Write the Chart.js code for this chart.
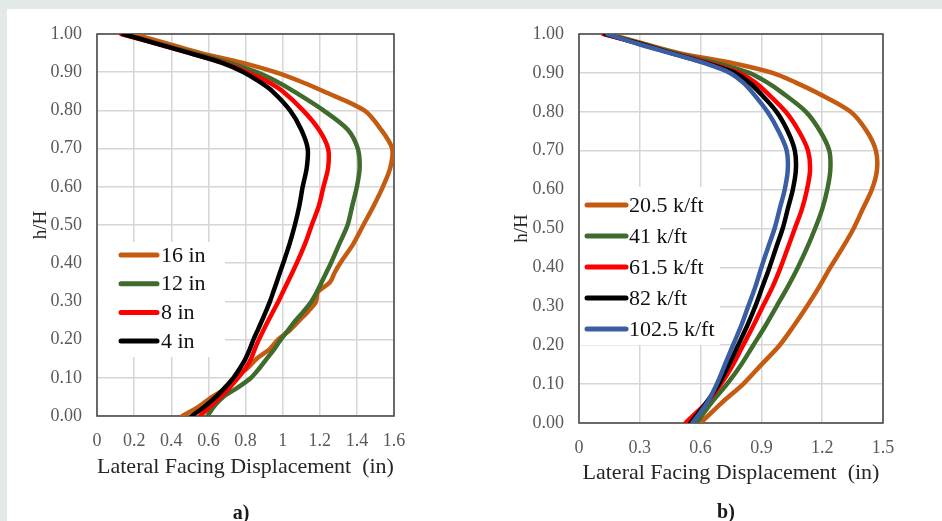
<!DOCTYPE html>
<html>
<head>
<meta charset="utf-8">
<script src="https://cdn.jsdelivr.net/npm/chart.js@4.4.1/dist/chart.umd.min.js"></script>
<style>
  body { margin: 0; background: #e3e9e6; width: 942px; height: 521px; overflow: hidden; }
  #panel { position: absolute; left: 7px; top: 9px; width: 935px; height: 512px; background: #fff; }
  .box { position: absolute; top: 0; width: 471px; height: 521px; }
  .cap { position: absolute; font: bold 20px 'Liberation Serif', 'Times New Roman', serif; color: #1a1a1a; transform: translate(-50%, -50%); }
</style>
</head>
<body>
<div id="panel"></div>
<div class="box" style="left:0"><canvas id="chartA"></canvas></div>
<div class="box" style="left:471px"><canvas id="chartB"></canvas></div>
<div class="cap" style="left:241px; top:512px">a)</div>
<div class="cap" style="left:726px; top:511px">b)</div>
<script>
// relative height h/H (shared by every series of a chart)
const heightsA = [0, 0.025, 0.05, 0.075, 0.1, 0.125, 0.15, 0.175, 0.2, 0.225, 0.25, 0.275, 0.3, 0.325, 0.35, 0.375, 0.4, 0.45, 0.5, 0.55, 0.6, 0.65, 0.7, 0.75, 0.8, 0.85, 0.875, 0.9, 0.925, 0.95, 0.975, 1.0];
const heightsB = [0, 0.05, 0.1, 0.15, 0.2, 0.25, 0.3, 0.35, 0.4, 0.45, 0.5, 0.55, 0.6, 0.65, 0.7, 0.75, 0.8, 0.85, 0.875, 0.9, 0.925, 0.95, 0.975, 1.0];

// a) lateral facing displacement (in) for each spacing
const namesA = ['16 in', '12 in', '8 in', '4 in'];
const disp16in = [0.46, 0.55, 0.62, 0.70, 0.74, 0.81, 0.86, 0.93, 0.975, 1.04, 1.09, 1.14, 1.18, 1.19, 1.255, 1.28, 1.31, 1.38, 1.435, 1.49, 1.54, 1.58, 1.59, 1.53, 1.44, 1.22, 1.10, 0.96, 0.78, 0.56, 0.38, 0.19];
const disp12in = [0.595, 0.63, 0.68, 0.76, 0.83, 0.875, 0.915, 0.955, 0.99, 1.03, 1.07, 1.115, 1.155, 1.185, 1.21, 1.235, 1.26, 1.305, 1.35, 1.375, 1.40, 1.415, 1.405, 1.35, 1.22, 1.06, 0.97, 0.86, 0.71, 0.52, 0.33, 0.14];
const disp8in = [0.555, 0.61, 0.665, 0.715, 0.76, 0.80, 0.83, 0.85, 0.872, 0.897, 0.923, 0.95, 0.977, 1.002, 1.027, 1.052, 1.076, 1.12, 1.157, 1.195, 1.22, 1.245, 1.245, 1.195, 1.11, 1.0, 0.92, 0.81, 0.68, 0.50, 0.32, 0.13];
const disp4in = [0.51, 0.58, 0.64, 0.69, 0.735, 0.77, 0.80, 0.823, 0.843, 0.866, 0.889, 0.911, 0.932, 0.95, 0.968, 0.985, 1.003, 1.037, 1.066, 1.09, 1.108, 1.13, 1.135, 1.10, 1.04, 0.945, 0.875, 0.79, 0.67, 0.50, 0.32, 0.14];

// b) lateral facing displacement (in) for each stiffness
const namesB = ['20.5 k/ft', '41 k/ft', '61.5 k/ft', '82 k/ft', '102.5 k/ft'];
const disp20k = [0.60, 0.70, 0.81, 0.90, 0.99, 1.06, 1.125, 1.185, 1.24, 1.30, 1.355, 1.40, 1.445, 1.47, 1.465, 1.42, 1.34, 1.17, 1.07, 0.955, 0.76, 0.50, 0.32, 0.15];
const disp41k = [0.58, 0.65, 0.73, 0.80, 0.86, 0.92, 0.975, 1.03, 1.08, 1.125, 1.165, 1.20, 1.225, 1.24, 1.235, 1.19, 1.12, 1.0, 0.93, 0.84, 0.68, 0.48, 0.31, 0.13];
const disp61k = [0.525, 0.625, 0.70, 0.76, 0.81, 0.86, 0.907, 0.955, 0.995, 1.03, 1.065, 1.10, 1.125, 1.14, 1.13, 1.085, 1.02, 0.925, 0.87, 0.79, 0.645, 0.465, 0.30, 0.12];
const disp82k = [0.55, 0.625, 0.69, 0.74, 0.785, 0.83, 0.87, 0.905, 0.94, 0.972, 1.005, 1.03, 1.055, 1.07, 1.065, 1.03, 0.975, 0.89, 0.84, 0.77, 0.63, 0.46, 0.30, 0.13];
const disp102k = [0.56, 0.63, 0.68, 0.72, 0.76, 0.80, 0.835, 0.87, 0.90, 0.932, 0.965, 0.99, 1.015, 1.03, 1.025, 0.985, 0.93, 0.855, 0.81, 0.745, 0.62, 0.455, 0.29, 0.14];

const yTicks = [0, 0.1, 0.2, 0.3, 0.4, 0.5, 0.6, 0.7, 0.8, 0.9, 1.0];
const xTicksA = [0, 0.2, 0.4, 0.6, 0.8, 1, 1.2, 1.4, 1.6];
const xTicksB = [0, 0.3, 0.6, 0.9, 1.2, 1.5];

const ORANGE = '#c55a11', GREEN = '#3f6b2c', RED = '#ff0000', BLACK = '#000000', BLUE = '#3a5ea3';
const SERIF = "'Liberation Serif', 'Times New Roman', serif";

function makeSeries(name, xs, ys, color, order) {
  return {
    label: name,
    data: xs.map((x, i) => ({ x: x, y: ys[i] })),
    borderColor: color,
    backgroundColor: color,
    borderWidth: 4.5,
    borderCapStyle: 'round',
    borderJoinStyle: 'round',
    pointRadius: 0,
    showLine: true,
    tension: 0.3,
    order: order
  };
}

// frame around the plot area
const framePlugin = {
  id: 'frame',
  beforeDatasetsDraw(chart) {
    const a = chart.chartArea, ctx = chart.ctx;
    ctx.save();
    ctx.strokeStyle = '#4d4d4d';
    ctx.lineWidth = 1.6;
    ctx.strokeRect(a.left, a.top, a.right - a.left, a.bottom - a.top);
    ctx.restore();
  }
};

// legend drawn inside the plot area on a white box
const boxLegend = {
  id: 'boxLegend',
  afterDatasetsDraw(chart, args, opts) {
    const a = chart.chartArea, ctx = chart.ctx;
    ctx.save();
    ctx.fillStyle = '#ffffff';
    ctx.fillRect(a.left + 1, a.top + opts.top, opts.width, opts.height);
    ctx.font = opts.fontSize + 'px ' + SERIF;
    ctx.textBaseline = 'middle';
    ctx.lineCap = 'round';
    opts.rows.forEach((row, i) => {
      const y = a.top + opts.firstRow + i * opts.rowGap;
      ctx.strokeStyle = row.color;
      ctx.lineWidth = 5;
      ctx.beginPath();
      ctx.moveTo(a.left + opts.lineStart, y);
      ctx.lineTo(a.left + opts.lineEnd, y);
      ctx.stroke();
      ctx.fillStyle = '#111111';
      ctx.fillText(row.text, a.left + opts.textX, y + 1);
    });
    ctx.restore();
  }
};

function fmtX(v) { return String(Math.round(v * 10) / 10); }

function makeOptions(xTicks, xMax, cfg) {
  return {
    responsive: true,
    maintainAspectRatio: false,
    animation: false,
    layout: { autoPadding: false, padding: { left: cfg.padLeft, right: cfg.padRight, top: 34, bottom: 0 } },
    plugins: {
      legend: { display: false },
      tooltip: { enabled: false },
      boxLegend: cfg.legend
    },
    scales: {
      x: {
        type: 'linear',
        min: 0,
        max: xMax,
        afterBuildTicks: s => { s.ticks = xTicks.map(v => ({ value: v })); },
        afterFit: s => { s.height = cfg.xHeight; },
        grid: { color: '#d6d6d6', lineWidth: 1.5, drawTicks: false },
        border: { display: false },
        ticks: { color: '#595959', padding: 14, font: { family: SERIF, size: 18 }, callback: v => fmtX(v), maxRotation: 0 },
        title: { display: true, text: 'Lateral Facing Displacement  (in)', color: '#262626', font: { family: SERIF, size: 22 }, padding: { top: 0, bottom: cfg.xTitlePad } }
      },
      y: {
        type: 'linear',
        min: 0,
        max: 1,
        afterBuildTicks: s => { s.ticks = yTicks.map(v => ({ value: v })); },
        afterFit: s => { s.width = cfg.yWidth; },
        grid: { color: '#d6d6d6', lineWidth: 1.5, drawTicks: false },
        border: { display: false },
        ticks: { color: '#595959', padding: 15, font: { family: SERIF, size: 18 }, callback: v => v.toFixed(2) },
        title: { display: true, text: 'h/H', color: '#262626', font: { family: SERIF, size: 19 }, padding: { top: 10, bottom: 0 } }
      }
    }
  };
}

new Chart(document.getElementById('chartA'), {
  type: 'scatter',
  data: {
    datasets: [
      makeSeries(namesA[0], disp16in, heightsA, ORANGE, 4),
      makeSeries(namesA[1], disp12in, heightsA, GREEN, 3),
      makeSeries(namesA[2], disp8in, heightsA, RED, 2),
      makeSeries(namesA[3], disp4in, heightsA, BLACK, 1)
    ]
  },
  options: makeOptions(xTicksA, 1.6, {
    padLeft: 20, padRight: 77, yWidth: 77, xHeight: 105, xTitlePad: 41,
    legend: {
      top: 208, width: 127, height: 115, lineStart: 24, lineEnd: 60, textX: 64, firstRow: 221, rowGap: 28.7, fontSize: 22,
      rows: [{ text: namesA[0], color: ORANGE }, { text: namesA[1], color: GREEN }, { text: namesA[2], color: RED }, { text: namesA[3], color: BLACK }]
    }
  }),
  plugins: [framePlugin, boxLegend]
});

new Chart(document.getElementById('chartB'), {
  type: 'scatter',
  data: {
    datasets: [
      makeSeries(namesB[0], disp20k, heightsB, ORANGE, 5),
      makeSeries(namesB[1], disp41k, heightsB, GREEN, 4),
      makeSeries(namesB[2], disp61k, heightsB, RED, 3),
      makeSeries(namesB[3], disp82k, heightsB, BLACK, 2),
      makeSeries(namesB[4], disp102k, heightsB, BLUE, 1)
    ]
  },
  options: makeOptions(xTicksB, 1.5, {
    padLeft: 30, padRight: 59, yWidth: 78, xHeight: 98, xTitlePad: 35,
    legend: {
      top: 153, width: 140, height: 158, lineStart: 8, lineEnd: 47, textX: 50, firstRow: 171, rowGap: 31, fontSize: 22,
      rows: [{ text: namesB[0], color: ORANGE }, { text: namesB[1], color: GREEN }, { text: namesB[2], color: RED }, { text: namesB[3], color: BLACK }, { text: namesB[4], color: BLUE }]
    }
  }),
  plugins: [framePlugin, boxLegend]
});
</script>
</body>
</html>
